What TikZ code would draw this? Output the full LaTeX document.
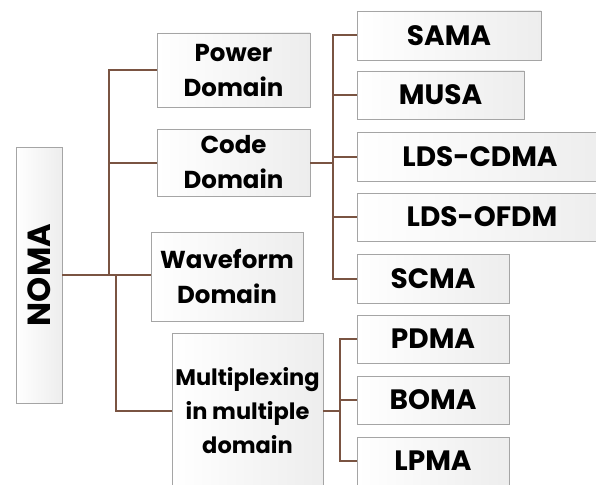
\documentclass[tikz,border=0pt]{standalone}
\usepackage{fontspec}
\setmainfont{Poppins}
\definecolor{linkbrown}{RGB}{122,84,66}
\definecolor{boxedge}{RGB}{165,165,165}
\tikzset{
  box/.style={draw=boxedge, line width=0.9pt, left color=white, right color=black!7,
    inner sep=0pt, align=center, font=\fontsize{24.5}{35}\selectfont\bfseries},
  acro/.style={box, font=\fontsize{28}{30}\selectfont\bfseries},
  conn/.style={draw=linkbrown, line width=2pt},
}
\begin{document}
\begin{tikzpicture}[x=1pt,y=-1pt]
  \useasboundingbox (0,0) rectangle (596,484);
  \clip (0,0) rectangle (596,484);
  \fill[white] (0,0) rectangle (596,484);

  % root
  \node[box, minimum width=46pt, minimum height=256pt] (noma) at (39,275)
    {\rotatebox{90}{\fontsize{32}{33}\selectfont NOMA}};

  % first level
  \node[box, minimum width=153pt, minimum height=74pt] (power) at (233.5,70) {Power\\Domain};
  \node[box, minimum width=153pt, minimum height=67pt] (code) at (233.5,162.5) {Code\\Domain};
  \node[box, minimum width=152pt, minimum height=89pt] (wave) at (227,276.5) {Waveform\\Domain};
  \node[box, font=\fontsize{22.5}{34}\selectfont\bfseries, minimum width=151pt, minimum height=156pt]
    (multi) at (247.5,411) {Multiplexing\\in multiple\\domain};

  % code domain schemes
  \node[acro, minimum width=184pt, minimum height=49pt] (sama) at (449,35.5) {SAMA};
  \node[acro, minimum width=167pt, minimum height=48pt] (musa) at (440.5,95) {MUSA};
  \node[acro, minimum width=246pt, minimum height=49pt] (ldscdma) at (480,156.5) {LDS-CDMA};
  \node[acro, minimum width=250pt, minimum height=48pt] (ldsofdm) at (482,217) {LDS-OFDM};
  \node[acro, minimum width=152pt, minimum height=49pt] (scma) at (433,278.5) {SCMA};

  % multi-domain schemes
  \node[acro, minimum width=152pt, minimum height=48pt] (pdma) at (433,339) {PDMA};
  \node[acro, minimum width=152pt, minimum height=48pt] (boma) at (433,400) {BOMA};
  \node[acro, minimum width=152pt, minimum height=48pt] (lpma) at (433,461) {LPMA};

  % junction points of the tree
  \coordinate (j1) at (109,275);
  \coordinate (j2) at (116,275);
  \coordinate (j3) at (333,162.5);
  \coordinate (j4) at (340,411);

  % root to first level
  \draw[conn] (noma.east) -- (noma.east -| wave.west);
  \draw[conn] (j1) |- (power.west);
  \draw[conn] (j1 |- code.west) -- (code.west);
  \draw[conn] (j2) |- (multi.west);

  % code domain branch
  \draw[conn] (code.east) -- (j3);
  \draw[conn] (j3) |- (sama.west);
  \draw[conn] (j3) |- (scma.west);
  \draw[conn] (j3 |- musa.west) -- (musa.west);
  \draw[conn] (j3 |- ldscdma.west) -- (ldscdma.west);
  \draw[conn] (j3 |- ldsofdm.west) -- (ldsofdm.west);

  % multiplexing branch
  \draw[conn] (multi.east) -- (j4);
  \draw[conn] (j4) |- (pdma.west);
  \draw[conn] (j4) |- (lpma.west);
  \draw[conn] (j4 |- boma.west) -- (boma.west);
\end{tikzpicture}
\end{document}
